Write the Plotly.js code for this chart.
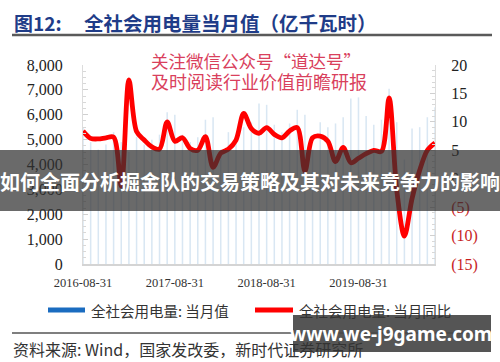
<!DOCTYPE html>
<html>
<head>
<meta charset="utf-8">
<script src="https://cdn.plot.ly/plotly-3.0.1.min.js"></script>
<style>
html,body{margin:0;padding:0;background:#fff;}
#chart{width:500px;height:362px;}
</style>
</head>
<body>
<div id="chart"></div>
<script>
// ---- data ----
const months = [
  '2016-08-31','2016-09-30','2016-10-31','2016-11-30','2016-12-31',
  '2017-01-31','2017-02-28','2017-03-31','2017-04-30','2017-05-31','2017-06-30',
  '2017-07-31','2017-08-31','2017-09-30','2017-10-31','2017-11-30','2017-12-31',
  '2018-01-31','2018-02-28','2018-03-31','2018-04-30','2018-05-31','2018-06-30',
  '2018-07-31','2018-08-31','2018-09-30','2018-10-31','2018-11-30','2018-12-31',
  '2019-01-31','2019-02-28','2019-03-31','2019-04-30','2019-05-31','2019-06-30',
  '2019-07-31','2019-08-31','2019-09-30','2019-10-31','2019-11-30','2019-12-31',
  '2020-01-31','2020-02-29','2020-03-31','2020-04-30','2020-05-31','2020-06-30'
];
// 全社会用电量: 当月值 (亿千瓦时)
const usage = [
  5500,4900,4600,4800,5300,
  4900,4500,5100,4800,5000,5200,
  6100,6000,5200,4900,5100,5800,
  5900,4600,5300,5100,5500,5700,
  6450,6400,5600,5300,5650,6200,
  6000,4600,5700,5500,5650,5900,
  6650,6700,5950,5600,5800,7050,
  5700,4200,5450,5500,5900,6300
];
// 全社会用电量: 当月同比 (%)
const yoy = [
  8.4,7.1,7.0,7.2,7.3,
  -1.3,17.4,8.3,6.8,5.6,5.2,
  10.0,6.6,7.2,5.3,5.0,7.4,
  2.0,4.5,5.2,6.8,11.5,8.8,
  8.0,9.0,7.8,7.2,8.4,9.0,
  1.3,7.2,7.5,6.6,3.0,5.5,
  2.8,3.6,4.4,5.0,4.8,14.2,
  -2.0,-10.1,-3.5,1.5,5.0,6.3
];
const xTickVals = ['2016-08-31','2017-08-31','2018-08-31','2019-08-31'];
const yoyTickVals = [-15,-10,-5,0,5,10,15,20];
const yoyTickText = ['<span style="color:#c81e1e">(15)</span>','<span style="color:#c81e1e">(10)</span>','<span style="color:#c81e1e">(5)</span>','0','5','10','15','20'];
const titleNo = '图12:';
const titleText = '全社会用电量当月值（亿千瓦时）';
const wmLine1 = '关注微信公众号“道达号”';
const wmLine2 = '及时阅读行业价值前瞻研报';
const bannerText = '如何全面分析掘金队的交易策略及其对未来竞争力的影响';
const legendNames = ['全社会用电量: 当月值','全社会用电量: 当月同比'];
const sourceText = '资料来源: Wind，国家发改委，新时代证券研究所';
const siteText = 'www.we-j9game.com';

// ---- pixel -> paper helpers ----
const L = 83, R = 435, T = 65, B = 264;
const px = x => (x - L) / (R - L);
const py = y => (B - y) / (B - T);

const serif = 'Liberation Serif, Times New Roman, serif';
const cjk = 'Noto Sans CJK SC, sans-serif';

const traces = [
  {
    type: 'bar', x: months, y: usage, name: legendNames[0],
    marker: {color: '#d9e7f3', line: {width: 0}},
    showlegend: false, hoverinfo: 'x+y'
  },
  {
    type: 'scatter', mode: 'lines', x: months, y: yoy, yaxis: 'y2', name: legendNames[1],
    line: {color: '#ff0000', width: 4.8, shape: 'spline', smoothing: 0.9},
    showlegend: false
  }
];

const ann = (text, x, y, opts) => Object.assign({
  text, x: px(x), y: py(y), xref: 'paper', yref: 'paper', showarrow: false,
  xanchor: 'left', yanchor: 'middle'
}, opts);

const layout = {
  width: 500, height: 362,
  margin: {l: L, r: 500 - R, t: T, b: 362 - B, pad: 0},
  paper_bgcolor: '#ffffff', plot_bgcolor: '#ffffff',
  bargap: 0.8,
  showlegend: false,
  xaxis: {
    type: 'category', range: [0, 46],
    tickvals: xTickVals, ticktext: xTickVals,
    showgrid: false, zeroline: false,
    showline: true, linecolor: '#d4d4d4', linewidth: 1.5,
    ticks: '', ticklabelstandoff: 6,
    tickfont: {family: serif, size: 12.5, color: '#333'}
  },
  yaxis: {
    range: [0, 8000], tickvals: [0,1000,2000,3000,4000,5000,6000,7000,8000],
    tickformat: ',d', showgrid: false, zeroline: false,
    showline: true, linecolor: '#dcdcdc', linewidth: 1,
    ticks: 'inside', ticklen: 5, tickcolor: '#d0d0d0',
    minor: {ticks: 'inside', ticklen: 3, dtick: 250, tickcolor: '#d8d8d8', showgrid: false},
    ticklabelstandoff: 16,
    tickfont: {family: serif, size: 16, color: '#222'}
  },
  yaxis2: {
    overlaying: 'y', side: 'right', range: [-15, 20],
    tickvals: yoyTickVals, ticktext: yoyTickText,
    showgrid: false, zeroline: false,
    showline: true, linecolor: '#dcdcdc', linewidth: 1,
    ticks: 'inside', ticklen: 5, tickcolor: '#d0d0d0',
    minor: {ticks: 'inside', ticklen: 3, dtick: 1, tickcolor: '#d8d8d8', showgrid: false},
    ticklabelstandoff: 12,
    tickfont: {family: serif, size: 16, color: '#222'}
  },
  shapes: [
    {type: 'line', xref: 'paper', yref: 'paper', x0: px(12), x1: px(492), y0: py(35), y1: py(35),
     line: {color: '#5a5a5a', width: 2.5}},
    {type: 'line', xref: 'paper', yref: 'paper', x0: px(48), x1: px(85), y0: py(310), y1: py(310),
     line: {color: '#1a6cc0', width: 5}},
    {type: 'line', xref: 'paper', yref: 'paper', x0: px(255), x1: px(293), y0: py(310), y1: py(310),
     line: {color: '#ff0000', width: 5}},
    {type: 'line', xref: 'paper', yref: 'paper', x0: px(12), x1: px(490), y0: py(333), y1: py(333),
     line: {color: '#555', width: 1.5}},
    {type: 'rect', xref: 'paper', yref: 'paper', x0: px(0), x1: px(500), y0: py(150), y1: py(211),
     fillcolor: 'rgba(48,48,48,0.72)', line: {width: 0}, layer: 'above'},
    {type: 'rect', xref: 'paper', yref: 'paper', x0: px(293), x1: px(491), y0: py(315), y1: py(352),
     fillcolor: 'rgba(70,70,70,0.92)', line: {width: 0}, layer: 'above'}
  ],
  annotations: [
    ann(titleNo, 12, 22, {font: {family: cjk, size: 19, color: '#1f3c88', weight: 'bold'}}),
    ann(titleText, 82, 22, {font: {family: cjk, size: 19.5, color: '#1f3c88', weight: 'bold'}}),
    ann(wmLine1, 149, 61, {font: {family: cjk, size: 17.5, color: '#d9405c'}}),
    ann(wmLine2, 149, 81, {font: {family: cjk, size: 18, color: '#d9405c'}}),
    ann(bannerText, 250, 181, {xanchor: 'center', font: {family: cjk, size: 20, color: '#ffffff', weight: 'bold'}}),
    ann(legendNames[0], 89, 310, {font: {family: cjk, size: 14.5, color: '#333'}}),
    ann(legendNames[1], 297, 310, {font: {family: cjk, size: 14.5, color: '#333'}}),
    ann(sourceText, 11, 349, {font: {family: cjk, size: 16, color: '#333'}}),
    ann(siteText, 391, 334, {xanchor: 'center', font: {family: 'Noto Sans, DejaVu Sans, sans-serif', size: 19, color: '#ffffff', weight: 'bold'}})
  ]
};

Plotly.newPlot('chart', traces, layout, {displayModeBar: false, staticPlot: true});
</script>
</body>
</html>
